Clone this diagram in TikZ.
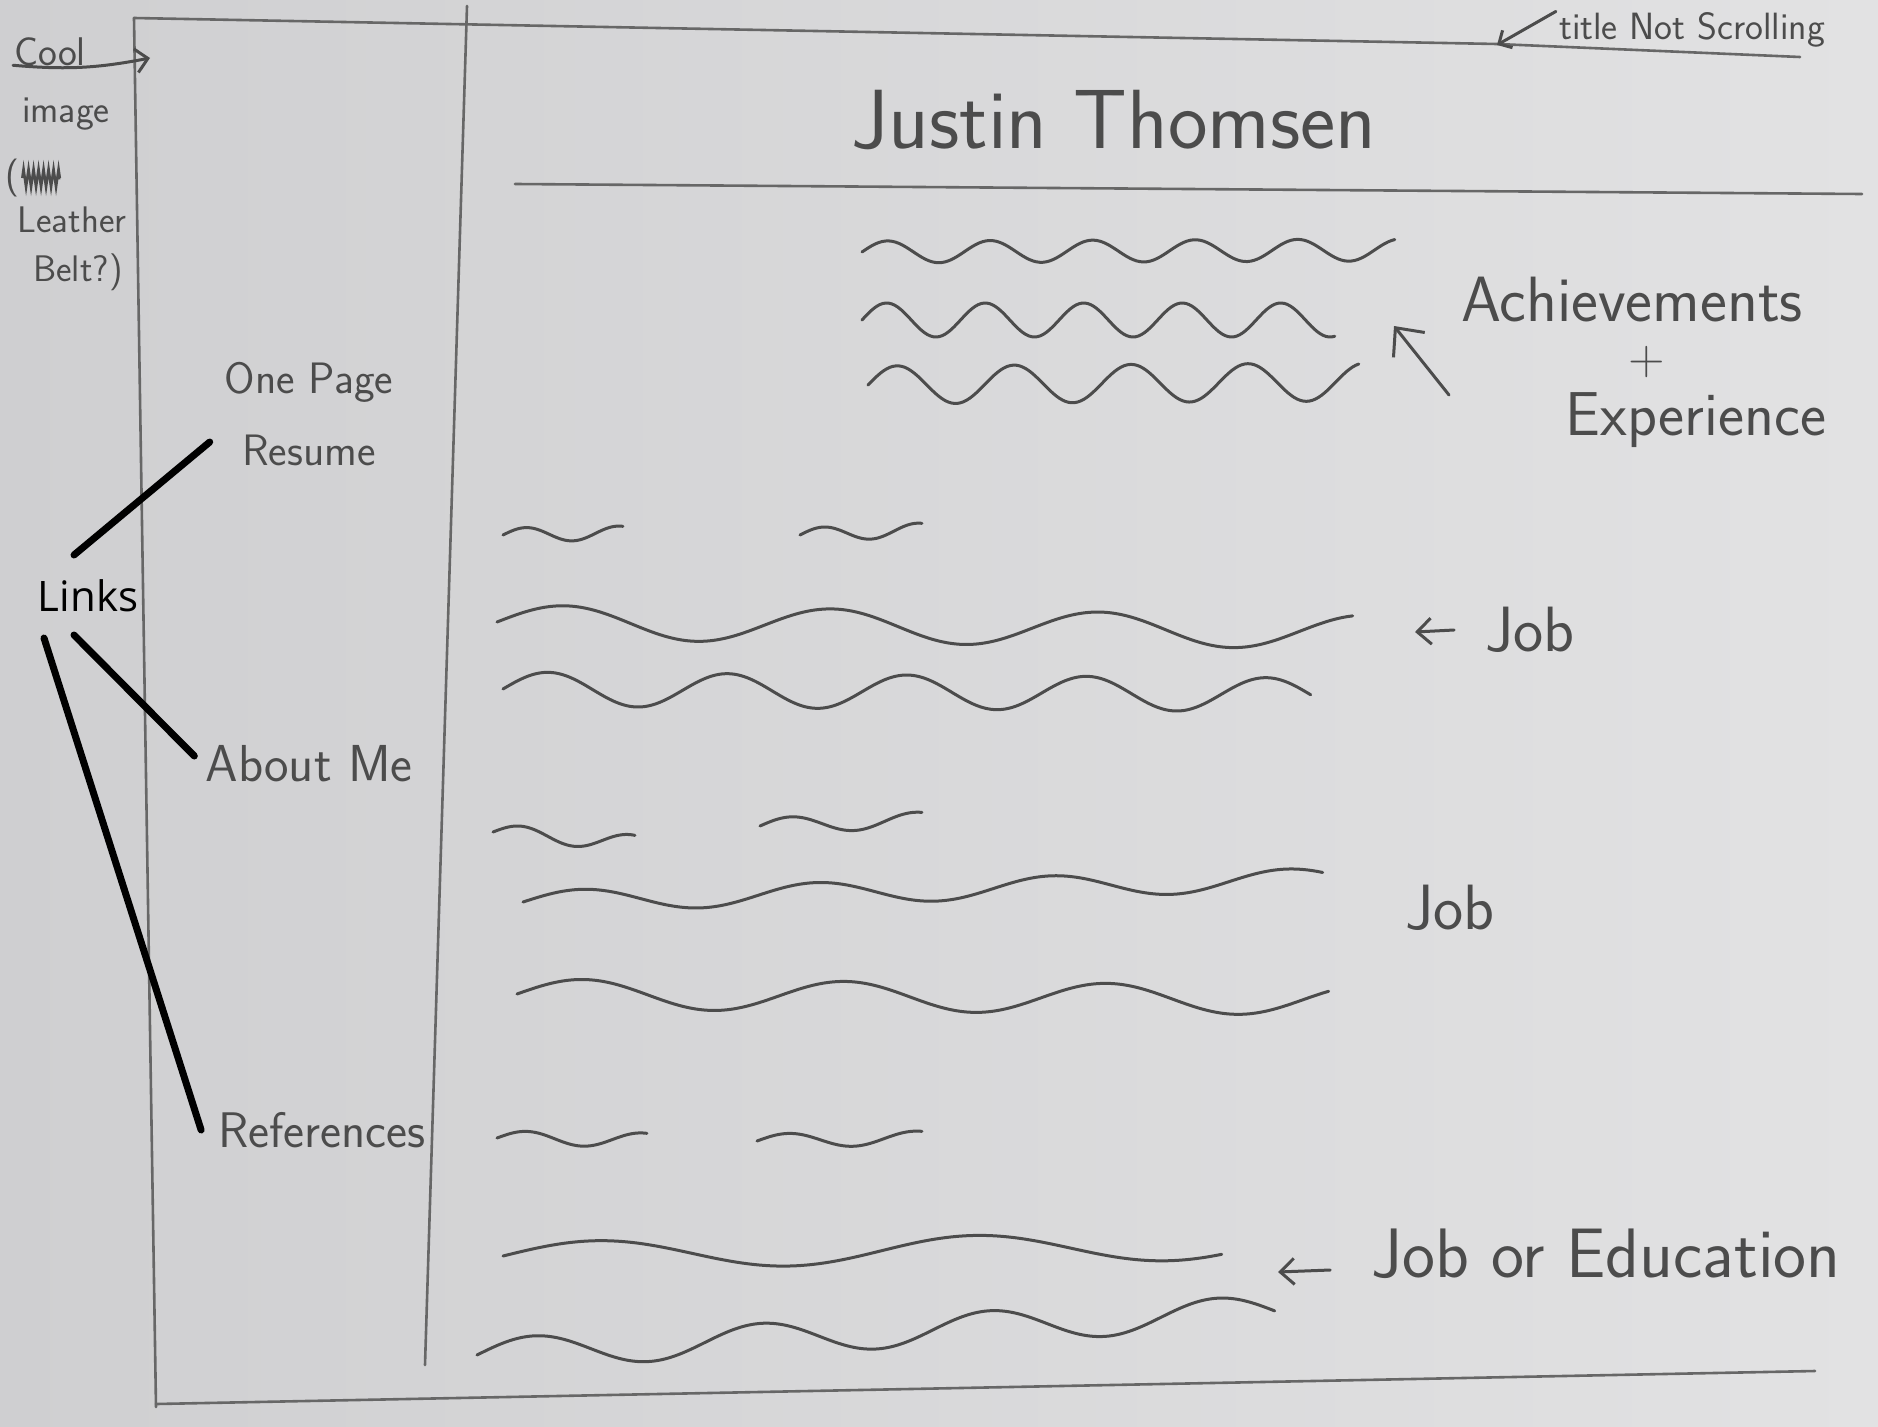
\documentclass[tikz,border=0pt]{standalone}
\usepackage{fontspec}
\usepackage{xcolor}
\usepackage{tikz}
\usetikzlibrary{arrows.meta, positioning, calc, decorations.pathmorphing}
\newfontfamily\linksfont{Open Sans}
\definecolor{paperleft}{HTML}{CFCFD1}
\definecolor{paperright}{HTML}{E2E2E3}
\definecolor{pencil}{HTML}{4C4C4C}
% hand drawn wavy text line: from (#1,#2) to (#3,#4), amplitude #5, #6 cycles
\newcommand{\scrawl}[6]{%
  \draw[wave] plot[domain=0:1, samples=160, smooth]
    ({#1+(#3-#1)*\x}, {#2+(#4-#2)*\x-#5*sin(360*#6*\x)});}

\begin{document}
\begin{tikzpicture}[
  x=1pt, y=-1pt,
  frameline/.style={draw=pencil!85, line width=2.6pt, line cap=round},
  hand/.style={text=pencil, font=\sffamily, inner sep=1pt},
  wave/.style={draw=pencil, line width=3pt, line cap=round, line join=round},
  linkline/.style={draw=black, line width=7pt, line cap=round},
  pencilarrow/.style={draw=pencil, line width=3pt, line cap=round,
    -{Straight Barb[length=14pt, width=26pt, line width=3pt]}},
]
  % paper
  \shade[left color=paperleft, right color=paperright] (0,0) rectangle (1878,1426);
  \useasboundingbox (0,0) rectangle (1878,1426);

  % page frame
  \draw[frameline] (134,18) -- (1497,44) -- (1800,57);
  \draw[frameline] (134,18) -- (156,1407);
  \draw[frameline] (467,6) -- (425,1365);
  \draw[frameline] (156,1404) -- (1815,1371);
  \draw[frameline] (515,184) -- (1862,194);

  % title
  \node[hand, font=\sffamily\fontsize{84}{90}\selectfont] (title) at (1114,120) {Justin Thomsen};
  \node[hand, font=\sffamily\fontsize{38}{42}\selectfont] (notscroll) at (1692,30) {title Not Scrolling};
  \coordinate (titletip) at (1497,45);
  \draw[pencilarrow, -{Straight Barb[length=10pt, width=20pt, line width=3pt]}] ([xshift=-2pt]notscroll.north west) -- (titletip);

  % cool image note
  \node[hand, font=\sffamily\fontsize{40}{44}\selectfont] (cool) at (50,52) {Cool};
  \node[hand, font=\sffamily\fontsize{38}{42}\selectfont] (image) at (66,114) {image};
  \node[hand, font=\sffamily\fontsize{38}{42}\selectfont, anchor=west] (paren) at (4,178) {(};
  \node[hand, font=\sffamily\fontsize{37}{40}\selectfont] (leather) at (72,220) {Leather};
  \node[hand, font=\sffamily\fontsize{37}{40}\selectfont] (belt) at (78,272) {Belt?)};
  \draw[pencil, line width=2.5pt, decorate, decoration={zigzag, amplitude=9pt, segment length=5pt}]
    ([xshift=2pt]paren.east) -- ++(38,0);
  \coordinate (corner) at (150,58);
  \draw[pencilarrow, -{Straight Barb[length=12pt, width=24pt, line width=3pt]}] ([yshift=2pt]cool.south west) to[bend right=8] (corner);

  % sidebar links
  \node[hand, font=\sffamily\fontsize{44}{72}\selectfont, align=center] (resume) at (309,414) {One Page\\Resume};
  \node[hand, font=\sffamily\fontsize{52}{60}\selectfont] (about) at (309,764) {About Me};
  \node[hand, font=\sffamily\fontsize{50}{58}\selectfont] (refs) at (322,1130) {References};
  \node[font=\linksfont\fontsize{42}{48}\selectfont, text=black] (links) at (88,596) {Links};
  \coordinate (linkA) at (74,555);
  \coordinate (linkB) at (74,635);
  \coordinate (linkC) at (44,638);
  \draw[linkline] (linkA) -- ($(resume.west)+(-14,28)$);
  \draw[linkline] (linkB) -- ($(about.west)+(-10,-8)$);
  \draw[linkline] (linkC) -- ($(refs.west)+(-16,0)$);

  % achievements block
  \scrawl{862}{252}{1395}{250}{11}{5.2}
  \scrawl{862}{320}{1335}{320}{17}{4.8}
  \scrawl{868}{385}{1359}{382}{19}{4.2}
  \node[hand, font=\sffamily\fontsize{64}{70}\selectfont] (achieve) at (1632,300) {Achievements};
  \node[hand, inner sep=0pt, font=\sffamily\fontsize{50}{56}\selectfont] (plus) at (1647,362) {+};
  \node[hand, font=\sffamily\fontsize{62}{68}\selectfont] (experience) at (1696,420) {Experience};
  \coordinate (achtail) at (1449,395);
  \coordinate (achtip) at (1394,326);
  \draw[pencilarrow, -{Straight Barb[length=22pt, width=40pt, line width=3pt]}] (achtail) -- (achtip);

  % first job
  \scrawl{503}{535}{623}{533}{7}{1.3}
  \scrawl{800}{535}{922}{530}{7}{1.3}
  \scrawl{497}{622}{1353}{632}{17}{3.2}
  \scrawl{503}{689}{1311}{695}{17}{4.5}
  \node[hand, font=\sffamily\fontsize{64}{70}\selectfont] (jobone) at (1530,630) {Job};
  \coordinate (jobonetip) at (1415,632);
  \draw[pencilarrow] ([xshift=-30pt]jobone.west) -- (jobonetip);

  % second job
  \scrawl{493}{832}{635}{843}{8}{1.3}
  \scrawl{760}{826}{922}{820}{8}{1.3}
  \scrawl{523}{902}{1323}{879}{11}{3.4}
  \scrawl{517}{994}{1329}{1000}{15}{3.1}
  \node[hand, font=\sffamily\fontsize{64}{70}\selectfont] (jobtwo) at (1450,908) {Job};

  % job or education
  \scrawl{497}{1138}{647}{1140}{7}{1.3}
  \scrawl{757}{1141}{922}{1138}{7}{1.3}
  \scrawl{503}{1256}{1222}{1246}{14}{1.9}
  \scrawl{477}{1355}{1275}{1311}{16}{3.5}
  \node[hand, font=\sffamily\fontsize{70}{76}\selectfont] (jobedu) at (1606,1254) {Job or Education};
  \coordinate (jobedutip) at (1278,1272);
  \draw[pencilarrow] ([xshift=-40pt,yshift=-16pt]jobedu.west) -- (jobedutip);
\end{tikzpicture}
\end{document}
